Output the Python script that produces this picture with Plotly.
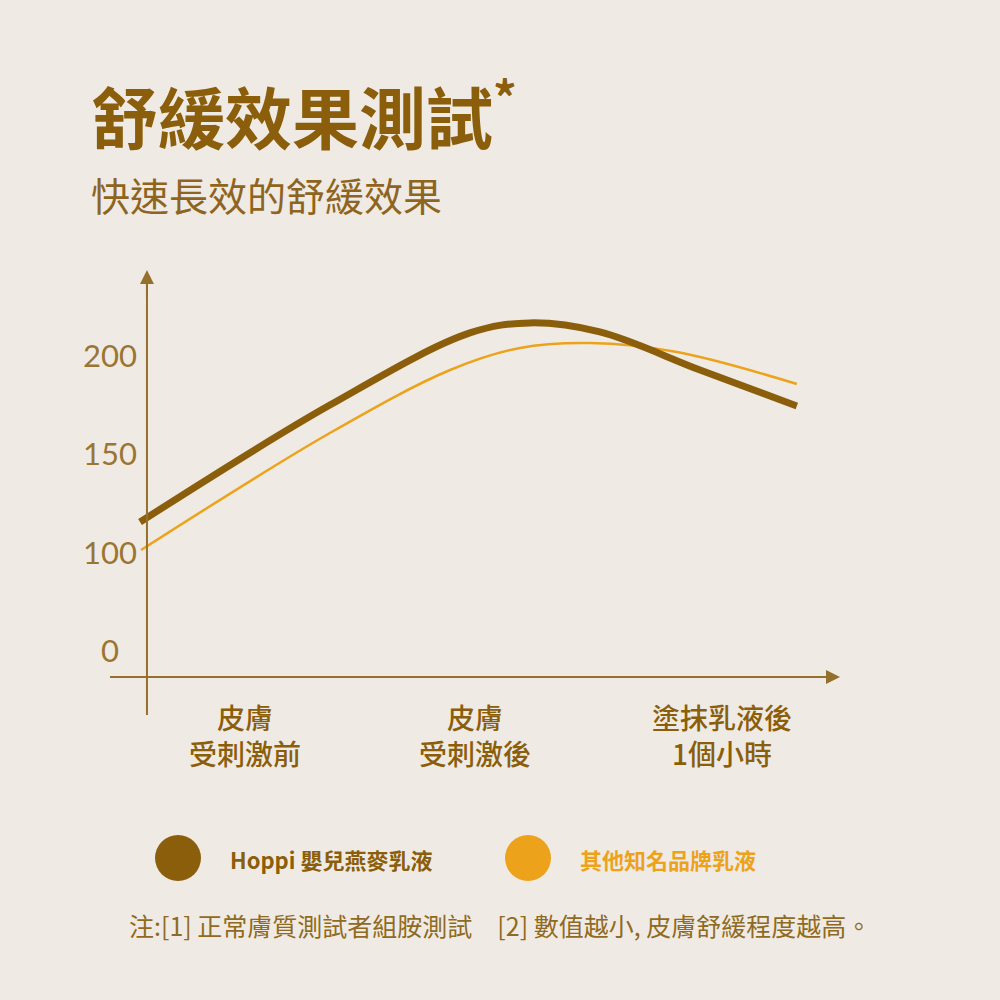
import plotly.graph_objects as go

# ---- data ----
categories = ["皮膚<br>受刺激前", "皮膚<br>受刺激後", "塗抹乳液後<br>1個小時"]
category_pos = [0, 0.965, 2]

y_tick_vals = [50, 100, 150, 200]
y_tick_text = ["0\u2007", "100", "150", "200"]

hoppi_x = [-0.44, 0.356, 0.943, 1.195, 1.488, 1.908, 2.314]
hoppi_y = [115.7, 175.1, 211.7, 216.8, 212.2, 192.9, 174.6]

other_x = [-0.436, 0.356, 0.86, 1.153, 1.447, 1.811, 2.314]
other_y = [101.5, 160.9, 192.9, 204.1, 206.6, 202.0, 185.8]

series_names = ["Hoppi 嬰兒燕麥乳液", "其他知名品牌乳液"]
series_colors = ["#8b5e0b", "#eca31b"]

title = "舒緩效果測試<sup>*</sup>"
subtitle = "快速長效的舒緩效果"
footnote = "注:[1] 正常膚質測試者組胺測試　[2] 數值越小, 皮膚舒緩程度越高。"

# ---- layout helpers ----
W, H = 1000, 1000
L, R, T, B = 110, 840, 270, 715
BG = "#efebe4"
AXIS = "#94702c"
CJK = "Noto Sans CJK TC"


def px(x):
    return (x - L) / (R - L)


def py(y):
    return (B - y) / (B - T)


X_RANGE = [-0.566, 2.495]
Y_RANGE = [17.77, 243.65]
x_axis_val = 37.06
y_axis_x = -0.411

fig = go.Figure()
fig.add_trace(go.Scatter(x=other_x, y=other_y, mode="lines", name=series_names[1],
                         line=dict(color=series_colors[1], width=2.5, shape="spline")))
fig.add_trace(go.Scatter(x=hoppi_x, y=hoppi_y, mode="lines", name=series_names[0],
                         line=dict(color=series_colors[0], width=7, shape="spline")))

annotations = [
    dict(text=title, x=px(89), y=py(112), xref="paper", yref="paper", xanchor="left",
         yanchor="middle", showarrow=False,
         font=dict(family=CJK, size=67, color="#8b5e0b", weight=700)),
    dict(text=subtitle, x=px(89), y=py(194), xref="paper", yref="paper", xanchor="left",
         yanchor="middle", showarrow=False,
         font=dict(family=CJK, size=39, color="#8e6420", weight=400)),
    dict(text=footnote, x=px(500), y=py(925), xref="paper", yref="paper", xanchor="center",
         yanchor="middle", showarrow=False,
         font=dict(family=CJK, size=25, color="#8f6a22")),
    # axis arrows
    dict(x=y_axis_x, y=Y_RANGE[1], ax=0, ay=30, xref="x", yref="y", text="",
         showarrow=True, arrowhead=2, arrowsize=1.4, arrowwidth=2, arrowcolor=AXIS),
    dict(x=X_RANGE[1], y=x_axis_val, ax=-30, ay=0, xref="x", yref="y", text="",
         showarrow=True, arrowhead=2, arrowsize=1.4, arrowwidth=2, arrowcolor=AXIS),
]

shapes = [
    dict(type="line", xref="x", yref="paper", x0=y_axis_x, x1=y_axis_x, y0=0, y1=0.97,
         line=dict(color=AXIS, width=2)),
    dict(type="line", xref="paper", yref="y", x0=0, x1=0.97, y0=x_axis_val, y1=x_axis_val,
         line=dict(color=AXIS, width=2)),
]

# legend drawn by hand, big dots like the reference
legend_left = [155, 505]
for i, name in enumerate(series_names):
    cx = legend_left[i]
    shapes.append(dict(type="circle", xref="paper", yref="paper",
                       x0=px(cx), x1=px(cx + 46), y0=py(835), y1=py(881),
                       fillcolor=series_colors[i], line=dict(width=0)))
    annotations.append(dict(text=name, x=px(cx + 73), y=py(859), xref="paper", yref="paper",
                            xanchor="left", yanchor="middle", showarrow=False,
                            font=dict(family=CJK, size=22, color=series_colors[i], weight=700)))

fig.update_layout(
    width=W, height=H,
    margin=dict(l=L, r=W - R, t=T, b=H - B),
    paper_bgcolor=BG, plot_bgcolor=BG,
    showlegend=False,
    annotations=annotations,
    shapes=shapes,
    xaxis=dict(range=X_RANGE, tickvals=category_pos, ticktext=categories,
               showgrid=False, zeroline=False, showline=False,
               ticks="", ticklabelstandoff=-15,
               tickfont=dict(family=CJK, size=28, color="#8b5e0b", weight=500)),
    yaxis=dict(range=Y_RANGE, tickvals=y_tick_vals, ticktext=y_tick_text,
               showgrid=False, zeroline=False, showline=False, ticks="",
               anchor="free", position=0, ticklabelstandoff=-27,
               tickfont=dict(family="Lato", size=31, color="#9a7533")),
)

fig.write_html("out.html", config={"displayModeBar": False},
               post_script="document.body.style.margin='0';")
